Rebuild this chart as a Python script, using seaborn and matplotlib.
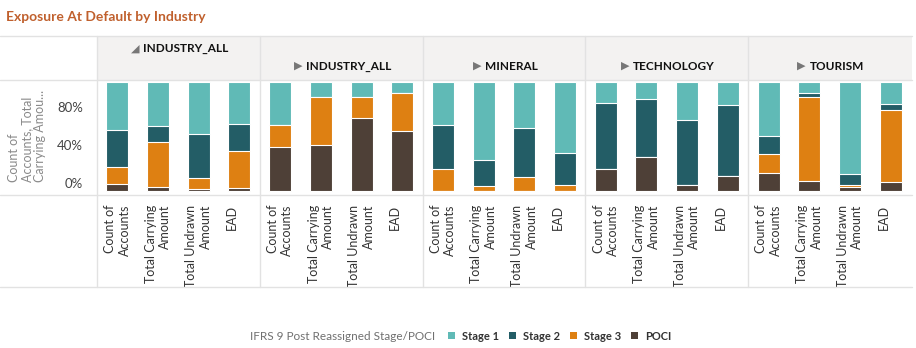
import matplotlib
matplotlib.use("Agg")
import matplotlib.pyplot as plt
import seaborn as sns
import pandas as pd
import numpy as np
from matplotlib.patches import Patch, Rectangle
from matplotlib.lines import Line2D

# ---------------- data ----------------
title = "Exposure At Default by Industry"
panels = ["INDUSTRY_ALL", "INDUSTRY_ALL", "MINERAL", "TECHNOLOGY", "TOURISM"]
measures = ["Count of\nAccounts", "Total Carrying\nAmount", "Total Undrawn\nAmount", "EAD"]
stages = ["Stage 1", "Stage 2", "Stage 3", "POCI"]
legend_title = "IFRS 9 Post Reassigned Stage/POCI"
y_label = "Count of\nAccounts, Total\nCarrying Amou..."
y_tick_labels = ["0%", "40%", "80%"]

# shares (%) per panel, per measure
stage1 = [[44.0, 40.4, 48.0, 38.5],
          [39.4, 13.8, 13.8, 10.0],
          [39.7, 71.8, 42.5, 65.4],
          [19.5, 15.9, 34.9, 20.8],
          [49.5, 10.4, 84.4, 19.9]]
stage2 = [[33.7, 14.4, 39.8, 24.5],
          [0.0, 0.0, 0.0, 0.0],
          [40.0, 23.3, 44.7, 28.8],
          [60.3, 52.7, 59.6, 65.4],
          [16.8, 3.1, 9.8, 5.5]]
stage3 = [[16.1, 41.8, 10.4, 34.5],
          [19.9, 43.7, 19.0, 35.1],
          [20.2, 4.9, 12.8, 5.8],
          [0.0, 0.0, 0.0, 0.0],
          [16.9, 77.3, 2.4, 66.1]]
poci = [[6.1, 3.4, 1.8, 2.5],
        [40.6, 42.5, 67.2, 54.8],
        [0.0, 0.0, 0.0, 0.0],
        [20.2, 31.5, 5.5, 13.8],
        [16.8, 9.2, 3.4, 8.5]]

colors = {"Stage 1": "#60bab6", "Stage 2": "#235d66", "Stage 3": "#de8012", "POCI": "#4e4037"}

# ---------------- long table ----------------
rows = []
series = {"Stage 1": stage1, "Stage 2": stage2, "Stage 3": stage3, "POCI": poci}
for p in range(len(panels)):
    for m, meas in enumerate(measures):
        tot = sum(series[s][p][m] for s in stages)
        for s in stages:
            rows.append({"panel": p, "measure": meas, "stage": s,
                         "share": series[s][p][m] / tot})
df = pd.DataFrame(rows)

# ---------------- figure ----------------
sns.set_theme(style="white")
plt.rcParams["font.family"] = ["Lato", "DejaVu Sans"]

W, H = 916, 348
fig = plt.figure(figsize=(W / 100, H / 100), dpi=100)
fig.patch.set_facecolor("white")


def fx(px):
    return px / W


def fy(py):
    return 1 - py / H


grid_c = "#e2e2e2"
left0, right0 = 97, 912
pw = (911 - 97) / len(panels)
top_plot, bot_plot = 80, 195

# header band
fig.add_artist(Rectangle((fx(left0), fy(80)), fx(right0) - fx(left0), fy(36) - fy(80),
                         transform=fig.transFigure, facecolor="#f3f2f1", edgecolor="none", zorder=0))

# frame lines
for yy in (36, 80, 195, 287):
    fig.add_artist(Line2D([fx(0), fx(right0)], [fy(yy), fy(yy)], transform=fig.transFigure,
                          color=grid_c, lw=1, zorder=3))
for i in range(len(panels)):
    xx = left0 + i * pw
    fig.add_artist(Line2D([fx(xx), fx(xx)], [fy(36), fy(287)], transform=fig.transFigure,
                          color=grid_c, lw=1, zorder=3))

bar_px = 109.0  # pixel height of 100%
yhi = 1 + 2 / bar_px

for i, name in enumerate(panels):
    x0 = left0 + i * pw
    ax = fig.add_axes([fx(x0), fy(bot_plot), fx(pw), (bot_plot - top_plot) / H])
    ax.set_facecolor("none")
    sub = df[df["panel"] == i]
    wide = sub.pivot(index="measure", columns="stage", values="share").reindex(measures)
    for k, s in enumerate(stages):
        cum = wide[stages[k:]].sum(axis=1).reset_index(name="height")
        sns.barplot(data=cum, x="measure", y="height", order=measures, color=colors[s],
                    saturation=1, width=0.54, edgecolor="white", linewidth=0.8,
                    errorbar=None, ax=ax)
    ax.set_xlim(-0.5, len(measures) - 0.5)
    ax.set_ylim(-4 / bar_px, yhi)
    ax.set_xlabel("")
    ax.set_ylabel("")
    sns.despine(ax=ax, left=True, bottom=True)
    ax.set_xticks(range(len(measures)))
    ax.set_xticklabels([m if "\n" in m else m + "\n" for m in measures],
                       rotation=90, va="top", ha="center", multialignment="right",
                       fontsize=9, color="#333333", linespacing=1.25)
    ax.tick_params(axis="x", length=0, pad=7)
    if i == 0:
        # tick label positions as drawn in the reference
        ax.set_yticks([8 / bar_px, 46 / bar_px, 84 / bar_px])
        ax.set_yticklabels(y_tick_labels, fontsize=9.5, color="#444444")
        ax.tick_params(axis="y", length=0, pad=10)
    else:
        ax.set_yticks([])

    # header
    cx = x0 + pw / 2 + 7
    hy = 49 if i == 0 else 66
    lab = fig.text(fx(cx), fy(hy), name, ha="center", va="center", fontsize=8.5,
                   fontweight="bold", color="#111111")
    tri = "\u25e2" if i == 0 else "\u25b6"
    ax.annotate(tri, xy=(0, 0.5), xycoords=lab, xytext=(-2.5, 0), textcoords="offset points",
                ha="right", va="center", fontsize=8, color="#777777",
                family=["DejaVu Sans"], annotation_clip=False)

# y label
fig.text(fx(27), fy(136), y_label, rotation=90, ha="center", va="center",
         multialignment="left", fontsize=9, color="#8a8a8a", linespacing=1.05)

# title
fig.text(fx(6), fy(17), title, ha="left", va="center", fontsize=10, fontweight="bold",
         color="#c0602d")

# legend
fig.text(fx(435), fy(336), legend_title, ha="right", va="center", fontsize=8.5, color="#707070")
handles = [Patch(facecolor=colors[s], edgecolor="none", label=s) for s in stages]
leg = fig.legend(handles=handles, loc="center left", bbox_to_anchor=(fx(448), fy(336)),
                 ncol=4, frameon=False, prop={"weight": "bold", "size": 8},
                 handlelength=0.65, handleheight=0.65, handletextpad=0.6,
                 columnspacing=0.9, borderpad=0, borderaxespad=0)
for t in leg.get_texts():
    t.set_color("#333333")

fig.savefig("out.png", dpi=100, facecolor="white")
